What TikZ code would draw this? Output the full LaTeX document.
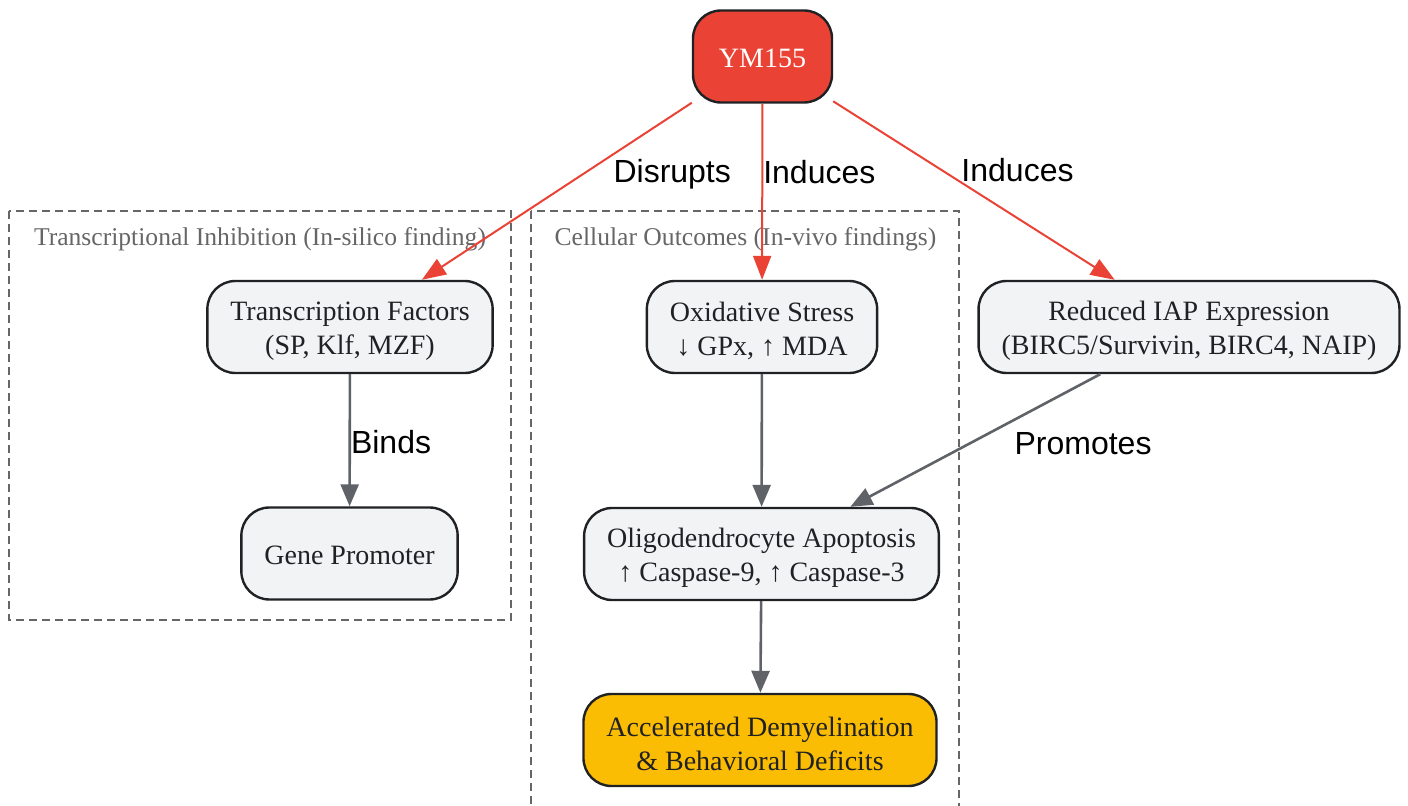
\documentclass[tikz,border=0pt]{standalone}
\usepackage{fontspec}
\setmainfont{Liberation Serif}
\newfontfamily\etiq{Liberation Sans}
\usepackage{tikz}
\usetikzlibrary{shapes,arrows.meta,positioning}
\definecolor{rojoym}{HTML}{EA4335}
\definecolor{grisflecha}{HTML}{5F6368}
\definecolor{fondocaja}{HTML}{F1F3F4}
\definecolor{bordecaja}{HTML}{202124}
\definecolor{amarillo}{HTML}{FBBC04}
\definecolor{grisgrupo}{HTML}{666666}
\tikzstyle{caja} = [draw=bordecaja, fill=fondocaja, line width=1.2pt, rectangle, rounded corners=14pt, align=center, minimum height=46pt, inner xsep=11.5pt, text=bordecaja, font=\fontsize{14}{17}\selectfont, execute at begin node=\rule{0pt}{11.3pt}]
\tikzstyle{doble} = [caja, execute at begin node=\rule{0pt}{30.5pt}]
\tikzstyle{farmaco} = [caja, fill=rojoym, text=white, minimum width=69.5pt]
\tikzstyle{resultado} = [doble, fill=amarillo]
\tikzstyle{efecto} = [draw=rojoym, line width=1pt, -{Triangle[length=12pt,width=9pt]}]
\tikzstyle{via} = [draw=grisflecha, line width=1.3pt, -{Triangle[length=11pt,width=9pt]}]
\tikzstyle{rotulo} = [inner sep=0pt, anchor=base west, yshift=-5.5pt, font=\etiq\fontsize{16}{19}\selectfont, text=black]
\tikzstyle{grupo} = [draw=grisgrupo, line width=1.2pt, dash pattern=on 4pt off 2.5pt]
\tikzstyle{grupotitulo} = [text=grisgrupo, font=\fontsize{12.8}{15}\selectfont]

\begin{document}
\begin{tikzpicture}[x=0.5pt, y=-0.5pt]
\useasboundingbox (0,0) rectangle (1408,806);
% grupos
\draw[grupo] (9,211) rectangle (511,620);
\draw[grupo] (531,211) rectangle (959,830);
\node[grupotitulo] (silico) at (260,239) {Transcriptional Inhibition (In-silico finding)};
\node[grupotitulo] (vivo) at (745.5,239) {Cellular Outcomes (In-vivo findings)};
% nodos
\node[farmaco] (ym) at (762.5,56.5) {YM155};
\node[doble] (tf) at (350,327) {Transcription Factors\\(SP, Klf, MZF)};
\node[caja] (gen) at (349.5,553.5) {Gene Promoter};
\node[doble] (oxi) at (762,327) {Oxidative Stress\\↓ GPx, ↑ MDA};
\node[doble] (iap) at (1189,327) {Reduced IAP Expression\\(BIRC5/Survivin, BIRC4, NAIP)};
\node[doble] (apo) at (761.5,554) {Oligodendrocyte Apoptosis\\↑ Caspase-9, ↑ Caspase-3};
\node[resultado] (demi) at (760,740) {Accelerated Demyelination\\\& Behavioral Deficits};
% flechas
\draw[efecto] (ym) -- node[rotulo, pos=.39, xshift=13pt] {Disrupts} (tf);
\draw[efecto] (ym) -- node[rotulo, pos=.39] {Induces} (oxi);
\draw[efecto] (ym) -- node[rotulo, pos=.39, xshift=8.75pt] {Induces} (iap);
\draw[via] (tf) -- node[rotulo, pos=.52] {Binds} (gen);
\draw[via] (oxi) -- (apo);
\draw[via] (iap) -- node[rotulo, pos=.52, xshift=21.5pt] {Promotes} (apo);
\draw[via] (apo) -- (demi);
\end{tikzpicture}
\end{document}
